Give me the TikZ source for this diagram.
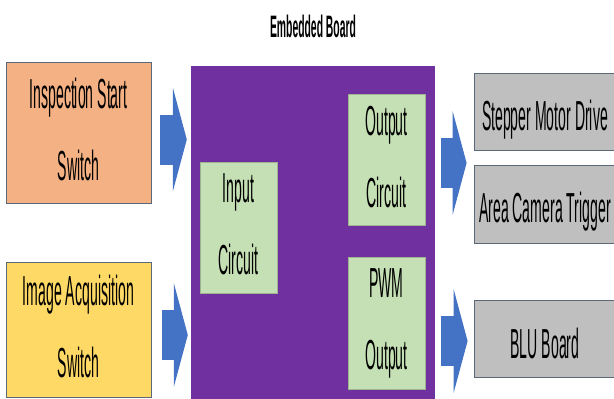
\documentclass[tikz,border=0pt]{standalone}
\usepackage{fontspec}
\setmainfont[FakeStretch=0.335]{Liberation Sans}
\usepackage{tikz}
\usetikzlibrary{positioning,arrows.meta,calc}
\definecolor{startorange}{HTML}{F4B183}
\definecolor{acqyellow}{HTML}{FFD966}
\definecolor{boardpurple}{HTML}{7030A0}
\definecolor{circgreen}{HTML}{C5E0B4}
\definecolor{devgray}{HTML}{BFBFBF}
\definecolor{flowblue}{HTML}{4472C4}
\definecolor{edge}{HTML}{5A6878}
% keeps every box label at the same height above/below its baseline
\newcommand{\boxstrut}{\rule[-6pt]{0pt}{52pt}}

\begin{document}
\begin{tikzpicture}[
    x=1pt, y=-1pt,
    box/.style={draw=edge, line width=0.8pt, inner sep=2pt, align=center,
        font=\fontsize{42}{72}\selectfont,
        execute at begin node=\boxstrut, execute at end node=\boxstrut},
    switchbox/.style={box, minimum width=145pt},
    circbox/.style={box, fill=circgreen, draw=circgreen!80!black, line width=0.5pt,
        minimum width=77pt, minimum height=131pt},
    devbox/.style={box, fill=devgray, minimum width=142pt, minimum height=77pt},
    flow/.style={line width=50pt, draw=flowblue,
        -{Triangle[length=14pt, width=104pt, line width=0pt]}}
]
    \useasboundingbox (0,0) rectangle (614,399);

    % inputs
    \node[switchbox, fill=startorange, minimum height=141pt] (start) at (78.5,132.5) {Inspection Start\\Switch};
    \node[switchbox, fill=acqyellow, minimum height=135pt] (acq) at (78.5,329.5) {Image Acquisition\\Switch};

    % the board and its circuits
    \node[fill=boardpurple, minimum width=244pt, minimum height=340pt, inner sep=0pt] (board) at (313,236) {};
    \node[font=\fontsize{31}{33}\selectfont\bfseries, inner sep=0pt, above=28pt of board] (title) {Embedded Board};
    \node[circbox] (incirc) at (238.5,227.5) {Input\\Circuit};
    \node[circbox] (outcirc) at (386.5,159.5) {Output\\Circuit};
    \node[circbox, minimum height=132pt] (pwm) at (386.5,323) {PWM\\Output};

    % outputs
    \node[devbox] (motor) at (545,111.5) {Stepper Motor Drive};
    \node[devbox, minimum height=78pt] (camera) at (545,204) {Area Camera Trigger};
    \node[devbox] (blu) at (545,338.5) {BLU Board};

    \draw[flow] ($(start.east)+(9,7)$) -- ($(start.east -| board.west)+(-4,7)$);
    \draw[flow] ($(acq.east)+(11,5.5)$) -- ($(acq.east -| board.west)+(-3,5.5)$);
    \draw[flow] ($(outcirc.east -| board.east)+(6,3.5)$) -- ($(outcirc.east -| motor.west)+(-7,3.5)$);
    \draw[flow] ($(blu.west -| board.east)+(6,2.5)$) -- ($(blu.west)+(-6,2.5)$);
\end{tikzpicture}
\end{document}
